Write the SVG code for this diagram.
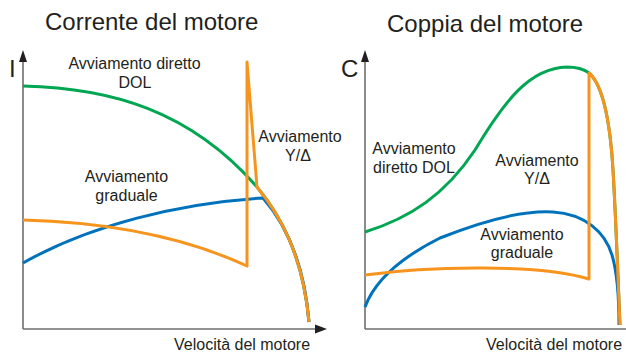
<svg xmlns="http://www.w3.org/2000/svg" width="626" height="353" viewBox="0 0 626 353">
<style>
text{font-family:"Liberation Sans",Arial,sans-serif;fill:#231f20}
.t{font-size:24px}
.l{font-size:16px}
.c{text-anchor:middle}
.ax{stroke:#6e6e6e;stroke-width:1.6;fill:none}
.ah{fill:#231f20}
.cv{fill:none;stroke-width:3;stroke-linejoin:round;stroke-linecap:butt}
.g{stroke:#00a651}
.b{stroke:#0072bc}
.o{stroke:#f7941d}
</style>
<rect width="626" height="353" fill="#fff"/>
<g id="left-chart">
<text class="t" x="45" y="30">Corrente del motore</text>
<text class="t" x="9" y="77">I</text>
<g id="left-axes">
<line class="ax" x1="23" y1="58" x2="23" y2="329"/>
<line class="ax" x1="23" y1="329" x2="318" y2="329"/>
<polygon class="ah" points="23,50 19,62 27,62"/>
<polygon class="ah" points="327,329 315,324.5 315,333.5"/>
</g>
<g id="left-curves">
<path class="cv g" d="M23,86 C110,88 190,110 257,187 C280,215 303,255 309,322"/>
<path class="cv b" d="M23,263 C90,225 180,203 263,198 C284,222 304,260 309,322"/>
<path class="cv o" d="M23,220 C100,222 180,235 247,266 L247,62 L257,187 C280,215 303,255 309,322"/>
</g>
<text class="l c" x="134.5" y="69">Avviamento diretto</text>
<text class="l c" x="135" y="88">DOL</text>
<text class="l c" x="300" y="142">Avviamento</text>
<text class="l c" x="298" y="161">Y/Δ</text>
<text class="l c" x="126.5" y="182">Avviamento</text>
<text class="l c" x="126.5" y="201">graduale</text>
<text class="l" x="174" y="350">Velocità del motore</text>
</g>
<g id="right-chart">
<text class="t" x="387" y="32">Coppia del motore</text>
<text class="t" x="341" y="77">C</text>
<g id="right-axes">
<line class="ax" x1="365" y1="58" x2="365" y2="329"/>
<line class="ax" x1="365" y1="329" x2="626" y2="329"/>
<polygon class="ah" points="365,50 361,62 369,62"/>
</g>
<g id="right-curves">
<path class="cv g" d="M365,232 C410,218 445,195 475,150 C505,100 530,68 567,67 C578,67 585,70 589,73 C603,85 610,120 613,170 C616,220 618,280 620,325"/>
<path class="cv b" d="M365,307 C375,280 400,258 440,238 C480,222 520,210 553,212 C585,214 605,232 612,255 C617,272 619,300 619,325"/>
<path class="cv o" d="M365,275 C430,266 540,264 589,279 L589,73 C603,85 610,120 613,170 C616,220 618,280 620,325"/>
</g>
<text class="l c" x="414" y="154">Avviamento</text>
<text class="l c" x="414" y="173">diretto DOL</text>
<text class="l c" x="537" y="166">Avviamento</text>
<text class="l c" x="537" y="184">Y/Δ</text>
<text class="l c" x="522" y="240">Avviamento</text>
<text class="l c" x="522" y="258">graduale</text>
<text class="l" x="486" y="350">Velocità del motore</text>
</g>
</svg>
